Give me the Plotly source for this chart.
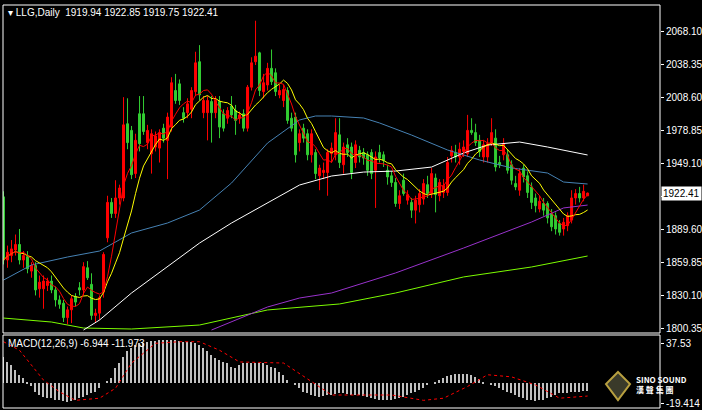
import pandas as pd
import plotly.graph_objects as go

# daily candles (oldest first)
opens = [1919,1862,1866,1871,1876,1862,1865,1852,1857,1836,1836,1839,1843,1835,1826,1823,1810,1817,1829,1837,
         1835,1855,1840,1812,1814,1833,1882,1914,1904,1918,1918,1985,1979,1940,1994,1994,1968,1958,1964,1963,
         1981,1970,1982,2015,2021,1995,1995,1998,2014,2041,1995,1995,2005,1995,2005,1994,1990,2001,1997,1990,
         1994,1981,2018,2041,2049,2014,2020,2035,2031,2011,2006,2015,1990,1991,1968,1981,1976,1957,1959,1938,
         1941,1941,1958,1957,1975,1948,1966,1964,1950,1961,1959,1957,1959,1943,1959,1957,1943,1938,1932,1913,
         1934,1916,1914,1907,1912,1917,1930,1922,1936,1920,1923,1923,1956,1959,1955,1960,1958,1979,1977,1970,
         1955,1955,1968,1972,1950,1957,1957,1948,1931,1925,1945,1938,1928,1918,1908,1913,1913,1904,1902,1895,
         1890,1893,1898,1918,1922,1918,1919.94]
highs = [1924,1875,1880,1885,1890,1870,1870,1860,1860,1848,1848,1846,1848,1838,1830,1826,1820,1830,1832,1842,
         1860,1861,1850,1818,1830,1869,1920,1918,1934,1930,2009,2008,1983,1976,2010,2010,1984,1980,1978,1980,
         1985,1995,2027,2030,2025,2000,2008,2018,2050,2056,2010,2010,2010,2010,2010,1998,2000,2010,2002,1996,
         1998,2020,2045,2078,2050,2030,2040,2052,2035,2020,2020,2018,1995,1995,1980,1985,1980,1980,1962,1948,
         1950,1962,1968,1990,1990,1968,1972,1968,1970,1965,1963,1960,1962,1960,1966,1960,1948,1942,1936,1925,
         1940,1925,1918,1920,1926,1935,1938,1945,1940,1935,1935,1955,1965,1966,1968,1970,1993,1990,1985,1975,
         1970,1972,1990,1980,1956,1972,1962,1952,1938,1945,1948,1942,1932,1922,1920,1918,1915,1908,1905,1898,
         1900,1905,1925,1926,1928,1930,1922.85]
lows = [1858,1855,1860,1866,1858,1855,1850,1846,1830,1828,1818,1834,1832,1820,1818,1806,1804,1805,1820,1830,
        1830,1844,1808,1806,1808,1828,1878,1900,1900,1912,1915,1962,1935,1936,1960,1975,1962,1940,1960,1950,
        1968,1935,1978,2003,2002,1986,1990,1990,2010,2006,1990,1970,1968,1990,1972,1978,1985,1990,1975,1985,
        1978,1978,2015,2038,2010,2008,2015,2020,2010,2008,2000,1985,1978,1950,1960,1968,1952,1950,1935,1925,
        1935,1920,1950,1952,1945,1940,1955,1935,1945,1950,1948,1938,1935,1909,1950,1946,1930,1928,1910,1908,
        1920,1912,1900,1895,1905,1912,1918,1918,1905,1915,1918,1920,1950,1950,1948,1955,1955,1975,1965,1955,
        1950,1950,1965,1942,1945,1952,1940,1930,1925,1920,1932,1918,1908,1905,1905,1902,1895,1888,1885,1884,
        1884,1888,1895,1912,1914,1915,1919.75]
closes = [1862,1869,1872,1876,1862,1866,1854,1857,1835,1842,1843,1843,1835,1826,1822,1810,1817,1827,1824,1835,
          1856,1846,1812,1814,1828,1867,1914,1904,1918,1927,1984,1968,1939,1970,1967,1978,1979,1976,1974,1977,
          1972,1991,2022,2006,2006,1990,2003,2015,2040,2011,2006,2006,1995,2006,1982,1981,1997,1993,1988,1993,
          1981,2018,2040,2046,2015,2022,2035,2023,2014,2015,2016,1988,1981,1957,1976,1972,1957,1976,1940,1945,
          1943,1959,1963,1977,1950,1964,1959,1941,1966,1955,1954,1943,1940,1955,1954,1952,1937,1932,1913,1920,
          1922,1921,1907,1916,1922,1931,1922,1940,1921,1932,1929,1950,1961,1955,1962,1964,1979,1977,1968,1960,
          1966,1967,1977,1946,1948,1967,1943,1934,1928,1940,1937,1923,1914,1911,1915,1907,1900,1892,1890,1887,
          1896,1902,1918,1922,1918,1924,1922.41]

# longer moving averages, read at sample candles
blue_idx = [0,7,16,24,32,41,49,57,66,74,78,82,90,94,102,111,119,127,136,140,146]
blue_val = [1843.9,1857.5,1864.7,1870.1,1886.4,1895.4,1907.1,1931.5,1967.6,1988.4,1992,1992,1990.2,1985.7,1974.8,
            1961.3,1952.3,1945.1,1940.5,1932.4,1930.6]
white_idx = [20,24,32,41,49,57,66,74,82,90,98,107,115,121,129,136,146]
white_val = [1798.8,1807.8,1832.2,1855.7,1877.3,1895.4,1913.5,1929.7,1937.8,1941.4,1942.3,1945.9,1958.6,1965.8,
             1968.5,1964,1956.8]
purple_idx = [52,66,74,82,98,115,132,140,146]
purple_val = [1798.8,1819.6,1827.7,1832.2,1850.3,1872.8,1896.3,1909,1911.6]
lime_idx = [0,12,20,32,49,66,84,98,115,132,146]
lime_val = [1809.6,1806,1800.6,1799.7,1803.3,1816.9,1822.3,1832.2,1846.7,1855.7,1865.6]

# MACD histogram per candle and signal line at sample candles
macd_hist = [25,20,17,12.5,8,5,1,-3,-8,-11,-12.5,-14,-14,-15.6,-16,-17,-18,-17,-15.6,-14,
             -12.5,-11,-9.4,-8,-4.7,0,2,5,14,19,25,30,33,36,37.5,38,39,40,40,40.6,
             40.6,41,41,40.6,40,39,39,38.4,37.5,36,33,30,26.6,23.4,22,20,19,15.6,14,17,
             19,19.4,19.4,19.4,19.4,19,17,15.6,14,11,8,3,0,-1.6,-4.7,-8,-9.4,-11,-12,-12.5,
             -12,-11,-11,-10,-9.4,-9.4,-10,-11,-11,-11,-12,-12.5,-14,-14.7,-15.6,-15.6,-15.6,-15.6,-15,-14,
             -12.5,-11,-9.4,-8,-6,-4.7,-1.6,0,1.6,3,5,7,8,8.4,8.8,8.8,8.4,8,6,4,
             1.6,0,-1.6,-3,-4.7,-6,-8,-9.4,-11,-12.5,-14,-15.6,-16,-17,-16,-15.6,-14,-12.5,-11,-9.4,
             -9.4,-8.8,-8,-8,-8,-7.2,-6.944]
sig_idx = [0,4,10,14,18,24,28,32,38,44,49,54,59,66,70,77,82,88,97,105,110,116,121,127,133,139,146]
sig_val = [39,31,3,-8,-16,-14,-4.7,19,37.5,39,39,31,20,19,19,1.6,-11,-11,-11,-16,-14,-3,8,6,-1.6,-14,-11.973]

idx = list(range(len(closes)))
cl = pd.Series(closes)
ma_fast = cl.rolling(5, min_periods=1).mean()
ma_slow = cl.rolling(10, min_periods=1).mean()

fig = go.Figure()
fig.add_trace(go.Candlestick(x=idx, open=opens, high=highs, low=lows, close=closes,
                             increasing=dict(line=dict(color="#ff0000", width=1), fillcolor="#ff0000"),
                             decreasing=dict(line=dict(color="#32cd32", width=1), fillcolor="#32cd32"),
                             whiskerwidth=0, showlegend=False))
for xs, ys, col in [(lime_idx, lime_val, "#7cfc00"), (purple_idx, purple_val, "#9932cc"),
                    (white_idx, white_val, "#ffffff"), (blue_idx, blue_val, "#4682b4"),
                    (idx, ma_slow, "#ffff00"), (idx, ma_fast, "#ff0000")]:
    fig.add_trace(go.Scatter(x=xs, y=ys, mode="lines", line=dict(color=col, width=1), showlegend=False))

fig.add_trace(go.Bar(x=idx, y=macd_hist, width=0.3, marker=dict(color="#c0c0c0", line_width=0),
                     xaxis="x2", yaxis="y2", showlegend=False))
fig.add_trace(go.Scatter(x=sig_idx, y=sig_val, mode="lines", line=dict(color="#ff0000", width=1, dash="dot"),
                         xaxis="x2", yaxis="y2", showlegend=False))

ticks = [1800.35, 1830.10, 1859.85, 1889.60, 1919.35, 1949.10, 1978.85, 2008.60, 2038.35, 2068.10]
# 1919.35 label is covered by the last-price box in the original
tick_txt = ["" if t == 1919.35 else "%.2f" % t for t in ticks]
tfont = dict(family="Liberation Sans", size=10, color="white")
xr = [-0.125, 164.1]
fig.update_layout(
    width=702, height=410, margin=dict(l=0, r=0, t=0, b=0),
    paper_bgcolor="black", plot_bgcolor="black", font=tfont,
    xaxis=dict(domain=[3/702, 660/702], range=xr, visible=False, automargin=False,
               rangeslider=dict(visible=False)),
    yaxis=dict(domain=[1-333/410, 1-5/410], range=[1796.1, 2092.2], side="right", tickvals=ticks,
               ticktext=tick_txt, ticks="outside", ticklen=3, tickcolor="white",
               showgrid=False, zeroline=False, tickfont=tfont, automargin=False),
    xaxis2=dict(domain=[3/702, 660/702], range=xr, visible=False, anchor="y2", automargin=False),
    yaxis2=dict(domain=[2/410, 75/410], range=[-23.2, 45.3], side="right", anchor="x2",
                tickvals=[37.53, -19.414], ticktext=["37.53", "-19.414"], ticks="outside", ticklen=3,
                tickcolor="white", showgrid=False, zeroline=False, tickfont=tfont, automargin=False),
    bargap=0,
)
fig.add_shape(type="rect", xref="paper", yref="paper", x0=3/702, x1=660/702, y0=1-333/410, y1=1-5/410,
              line=dict(color="white", width=1))
fig.add_shape(type="rect", xref="paper", yref="paper", x0=3/702, x1=660/702, y0=2/410, y1=75/410,
              line=dict(color="white", width=1))
fig.add_annotation(xref="paper", yref="paper", x=6/702, y=1-12/410, xanchor="left", yanchor="middle",
                   text="▾ LLG,Daily  1919.94 1922.85 1919.75 1922.41", showarrow=False, font=tfont)
fig.add_annotation(xref="paper", yref="paper", x=6/702, y=1-343/410, xanchor="left", yanchor="middle",
                   text="MACD(12,26,9) -6.944 -11.973", showarrow=False, font=tfont)
fig.add_annotation(xref="paper", yref="y", x=661/702, y=closes[-1], xanchor="left", yanchor="middle",
                   text="1922.41", showarrow=False, bgcolor="white", borderpad=1,
                   font=dict(family="Liberation Sans", size=10, color="black"))
fig.add_annotation(xref="paper", yref="paper", x=634/702, y=1-384/410, xanchor="left", yanchor="middle",
                   text="<b>SINO SOUND</b><br><b>漢 聲 集 團</b>", showarrow=False, align="left",
                   font=dict(family="Noto Sans CJK TC", size=8, color="white"))
fig.add_shape(type="path", xref="paper", yref="paper",
              path="M %f %f L %f %f L %f %f L %f %f Z" % (618/702, 1-372/410, 630/702, 1-384/410,
                                                         618/702, 1-400/410, 606/702, 1-384/410),
              line=dict(color="#b8a040", width=2), fillcolor="#3a3a2a")

fig.write_html("out.html", config={"displayModeBar": False},
               post_script="document.body.style.margin='0';")
